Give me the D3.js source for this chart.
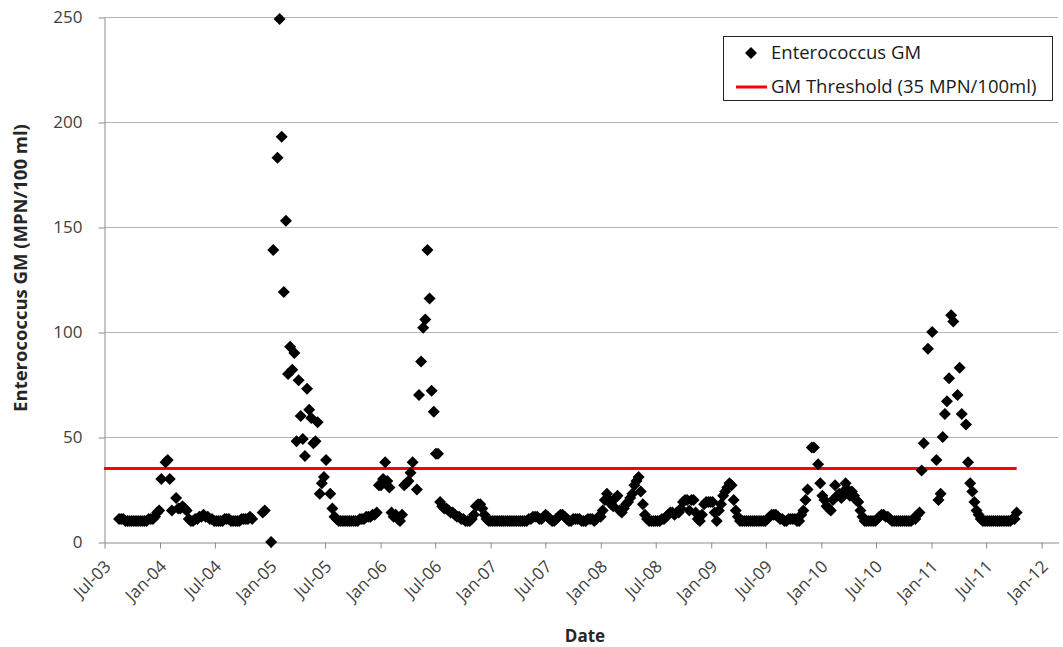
<!DOCTYPE html>
<meta charset="utf-8">
<title>Enterococcus GM</title>
<style>
  body { margin: 0; background: #fff; }
  svg { display: block; font-family: "Open Sans", sans-serif; }
</style>
<svg width="1063" height="647"></svg>
<script src="https://d3js.org/d3.v7.min.js"></script>
<script>

// weekly running geometric mean
var enteroGM = [
  ["2003-08-20",11],["2003-08-27",11],["2003-09-03",11],["2003-09-10",10],["2003-09-17",10],["2003-09-24",10],
  ["2003-10-01",10],["2003-10-08",10],["2003-10-15",10],["2003-10-22",10],["2003-10-29",10],["2003-11-05",10],
  ["2003-11-12",10],["2003-11-19",10],["2003-11-26",11],["2003-12-03",11],["2003-12-10",11],["2003-12-17",12],
  ["2003-12-24",14],["2003-12-31",15],
  ["2004-01-07",30],["2004-01-21",38],["2004-01-28",39],["2004-02-04",30],["2004-02-11",15],["2004-02-25",21],
  ["2004-03-03",16],["2004-03-10",16],["2004-03-17",17],["2004-03-24",16],["2004-03-31",15],["2004-04-07",11],
  ["2004-04-14",10],["2004-04-21",10],["2004-04-28",11],["2004-05-05",11],["2004-05-12",12],["2004-05-19",12],
  ["2004-05-26",13],["2004-06-02",12],["2004-06-09",12],["2004-06-16",11],["2004-06-23",11],["2004-06-30",10],
  ["2004-07-07",10],["2004-07-14",10],["2004-07-21",10],["2004-07-28",10],["2004-08-04",11],["2004-08-11",11],
  ["2004-08-18",11],["2004-08-25",10],["2004-09-01",10],["2004-09-08",10],["2004-09-15",10],["2004-09-22",10],
  ["2004-09-29",11],["2004-10-06",11],["2004-10-13",11],["2004-10-20",11],["2004-10-27",12],["2004-11-03",11],
  ["2004-12-08",14],["2004-12-15",15],
  ["2005-01-05",0],["2005-01-12",139],["2005-01-26",183],["2005-02-02",249],["2005-02-09",193],["2005-02-16",119],
  ["2005-02-23",153],["2005-03-02",80],["2005-03-09",93],["2005-03-16",82],["2005-03-23",90],["2005-03-30",48],
  ["2005-04-06",77],["2005-04-13",60],["2005-04-20",49],["2005-04-27",41],["2005-05-04",73],["2005-05-11",63],
  ["2005-05-18",59],["2005-05-25",47],["2005-06-01",48],["2005-06-08",57],["2005-06-15",23],["2005-06-22",28],
  ["2005-06-29",31],["2005-07-06",39],["2005-07-20",23],["2005-07-27",16],["2005-08-03",12],["2005-08-10",11],
  ["2005-08-17",10],["2005-08-24",10],["2005-08-31",10],["2005-09-07",10],["2005-09-14",10],["2005-09-21",10],
  ["2005-09-28",10],["2005-10-05",10],["2005-10-12",10],["2005-10-19",10],["2005-10-26",11],["2005-11-02",11],
  ["2005-11-09",11],["2005-11-16",12],["2005-11-23",12],["2005-11-30",12],["2005-12-07",13],["2005-12-14",13],
  ["2005-12-21",14],["2005-12-28",27],
  ["2006-01-04",27],["2006-01-11",30],["2006-01-18",38],["2006-01-25",29],["2006-02-01",26],["2006-02-08",14],
  ["2006-02-15",12],["2006-02-22",13],["2006-03-01",11],["2006-03-08",10],["2006-03-15",13],["2006-03-22",27],
  ["2006-03-29",28],["2006-04-05",29],["2006-04-12",33],["2006-04-19",38],["2006-05-03",25],["2006-05-10",70],
  ["2006-05-17",86],["2006-05-24",102],["2006-05-31",106],["2006-06-07",139],["2006-06-14",116],["2006-06-21",72],
  ["2006-06-28",62],["2006-07-05",42],["2006-07-12",42],["2006-07-19",19],["2006-07-26",17],["2006-08-02",16],
  ["2006-08-09",16],["2006-08-16",15],["2006-08-23",14],["2006-08-30",14],["2006-09-06",13],["2006-09-13",12],
  ["2006-09-20",12],["2006-09-27",11],["2006-10-04",11],["2006-10-11",10],["2006-10-18",10],["2006-10-25",10],
  ["2006-11-01",11],["2006-11-08",13],["2006-11-15",17],["2006-11-22",18],["2006-11-29",18],["2006-12-06",16],
  ["2006-12-13",13],["2006-12-20",11],["2006-12-27",10],
  ["2007-01-03",10],["2007-01-10",10],["2007-01-17",10],["2007-01-24",10],["2007-01-31",10],["2007-02-07",10],
  ["2007-02-14",10],["2007-02-21",10],["2007-02-28",10],["2007-03-07",10],["2007-03-14",10],["2007-03-21",10],
  ["2007-03-28",10],["2007-04-04",10],["2007-04-11",10],["2007-04-18",10],["2007-04-25",10],["2007-05-02",10],
  ["2007-05-09",11],["2007-05-16",11],["2007-05-23",12],["2007-05-30",12],["2007-06-06",12],["2007-06-13",11],
  ["2007-06-20",11],["2007-06-27",12],["2007-07-04",13],["2007-07-11",12],["2007-07-18",11],["2007-07-25",10],
  ["2007-08-01",10],["2007-08-08",11],["2007-08-15",12],["2007-08-22",13],["2007-08-29",13],["2007-09-05",12],
  ["2007-09-12",11],["2007-09-19",10],["2007-09-26",10],["2007-10-03",11],["2007-10-10",11],["2007-10-17",11],
  ["2007-10-24",11],["2007-10-31",10],["2007-11-07",10],["2007-11-14",10],["2007-11-21",11],["2007-11-28",11],
  ["2007-12-05",11],["2007-12-12",10],["2007-12-19",11],["2007-12-26",12],
  ["2008-01-02",12],["2008-01-09",15],["2008-01-16",20],["2008-01-23",23],["2008-01-30",20],["2008-02-06",18],
  ["2008-02-13",17],["2008-02-20",21],["2008-02-27",22],["2008-03-05",15],["2008-03-12",14],["2008-03-19",16],
  ["2008-03-26",18],["2008-04-02",19],["2008-04-09",21],["2008-04-16",23],["2008-04-23",27],["2008-04-30",29],
  ["2008-05-07",31],["2008-05-14",24],["2008-05-21",18],["2008-05-28",13],["2008-06-04",11],["2008-06-11",10],
  ["2008-06-18",10],["2008-06-25",10],["2008-07-02",10],["2008-07-09",10],["2008-07-16",10],["2008-07-23",11],
  ["2008-07-30",11],["2008-08-06",12],["2008-08-13",13],["2008-08-20",14],["2008-08-27",14],["2008-09-03",13],
  ["2008-09-10",14],["2008-09-17",14],["2008-09-24",16],["2008-10-01",19],["2008-10-08",20],["2008-10-15",20],
  ["2008-10-22",15],["2008-10-29",20],["2008-11-05",20],["2008-11-12",14],["2008-11-19",11],["2008-11-26",10],
  ["2008-12-03",13],["2008-12-10",18],["2008-12-17",19],["2008-12-24",19],["2008-12-31",19],
  ["2009-01-07",19],["2009-01-14",14],["2009-01-21",10],["2009-01-28",15],["2009-02-04",18],["2009-02-11",22],
  ["2009-02-18",24],["2009-02-25",26],["2009-03-04",28],["2009-03-11",27],["2009-03-18",20],["2009-03-25",15],
  ["2009-04-01",12],["2009-04-08",10],["2009-04-15",10],["2009-04-22",10],["2009-04-29",10],["2009-05-06",10],
  ["2009-05-13",10],["2009-05-20",10],["2009-05-27",10],["2009-06-03",10],["2009-06-10",10],["2009-06-17",10],
  ["2009-06-24",10],["2009-07-01",10],["2009-07-08",11],["2009-07-15",12],["2009-07-22",13],["2009-07-29",13],
  ["2009-08-05",13],["2009-08-12",12],["2009-08-19",11],["2009-08-26",11],["2009-09-02",10],["2009-09-09",10],
  ["2009-09-16",11],["2009-09-23",11],["2009-09-30",11],["2009-10-07",11],["2009-10-14",10],["2009-10-21",10],
  ["2009-10-28",13],["2009-11-04",15],["2009-11-11",20],["2009-11-18",25],["2009-12-02",45],["2009-12-09",45],
  ["2009-12-23",37],["2009-12-30",28],
  ["2010-01-06",22],["2010-01-13",20],["2010-01-20",17],["2010-01-27",16],["2010-02-03",15],["2010-02-10",20],
  ["2010-02-17",27],["2010-02-24",22],["2010-03-03",23],["2010-03-10",21],["2010-03-17",24],["2010-03-24",28],
  ["2010-03-31",25],["2010-04-07",22],["2010-04-14",24],["2010-04-21",22],["2010-04-28",20],["2010-05-05",19],
  ["2010-05-12",15],["2010-05-19",12],["2010-05-26",10],["2010-06-02",10],["2010-06-09",10],["2010-06-16",10],
  ["2010-06-23",10],["2010-06-30",10],["2010-07-07",11],["2010-07-14",12],["2010-07-21",13],["2010-07-28",13],
  ["2010-08-04",12],["2010-08-11",12],["2010-08-18",11],["2010-08-25",10],["2010-09-01",10],["2010-09-08",10],
  ["2010-09-15",10],["2010-09-22",10],["2010-09-29",10],["2010-10-06",10],["2010-10-13",10],["2010-10-20",10],
  ["2010-10-27",10],["2010-11-03",11],["2010-11-10",11],["2010-11-17",13],["2010-11-24",14],["2010-12-01",34],
  ["2010-12-08",47],["2010-12-22",92],
  ["2011-01-05",100],["2011-01-19",39],["2011-01-26",20],["2011-02-02",23],["2011-02-09",50],["2011-02-16",61],
  ["2011-02-23",67],["2011-03-02",78],["2011-03-09",108],["2011-03-16",105],["2011-03-30",70],["2011-04-06",83],
  ["2011-04-13",61],["2011-04-27",56],["2011-05-04",38],["2011-05-11",28],["2011-05-18",24],["2011-05-25",19],
  ["2011-06-01",15],["2011-06-08",13],["2011-06-15",11],["2011-06-22",10],["2011-06-29",10],["2011-07-06",10],
  ["2011-07-13",10],["2011-07-20",10],["2011-07-27",10],["2011-08-03",10],["2011-08-10",10],["2011-08-17",10],
  ["2011-08-24",10],["2011-08-31",10],["2011-09-07",10],["2011-09-14",10],["2011-09-21",10],["2011-09-28",11],
  ["2011-10-05",11],["2011-10-12",14]
];

var threshold = 35,
    thresholdSpan = ["2003-07-01", "2011-10-12"];

var axisSpan = ["2003-07-01", "2012-02-26"],
    tickDates = ["2003-07-01","2004-01-01","2004-07-01","2005-01-01","2005-07-01","2006-01-01",
                 "2006-07-01","2007-01-01","2007-07-01","2008-01-01","2008-07-01","2009-01-01",
                 "2009-07-01","2010-01-01","2010-07-01","2011-01-01","2011-07-01","2012-01-01"],
    yTicks = [0, 50, 100, 150, 200, 250];

var legendLabels = ["Enterococcus GM", "GM Threshold (35 MPN/100ml)"];

var svg = d3.select("svg"),
    plotLeft = 104, plotRight = 1058, plotTop = 17, plotBottom = 542;

var parse = d3.utcParse("%Y-%m-%d");

var x = d3.scaleUtc()
    .domain(axisSpan.map(parse))
    .range([plotLeft, plotRight]);

var y = d3.scaleLinear()
    .domain([0, 250])
    .range([plotBottom, plotTop]);

// horizontal gridlines
svg.append("g")
  .selectAll("line")
  .data(yTicks.filter(function(d) { return d > 0; }))
  .enter().append("line")
    .attr("x1", plotLeft).attr("x2", plotRight)
    .attr("y1", function(d) { return y(d) + 0.5; })
    .attr("y2", function(d) { return y(d) + 0.5; })
    .attr("stroke", "#b5b5b5");

// y axis
var yAxis = svg.append("g")
    .attr("transform", "translate(" + (plotLeft + 0.5) + ",0.5)")
    .call(d3.axisLeft(y).tickValues(yTicks).tickSize(6).tickPadding(16).tickSizeOuter(0));
yAxis.select(".domain").attr("stroke", "#8c8c8c");
yAxis.selectAll(".tick line").attr("stroke", "#8c8c8c");
yAxis.selectAll("text")
    .attr("font-family", "'Open Sans', sans-serif")
    .attr("font-size", 17)
    .attr("fill", "#404040");

// x axis with slanted labels
var fmt = d3.utcFormat("%b-%y");
var xAxis = svg.append("g")
    .attr("transform", "translate(0.5," + (plotBottom + 0.5) + ")")
    .call(d3.axisBottom(x).tickValues(tickDates.map(parse)).tickFormat(fmt).tickSize(6).tickSizeOuter(0));
xAxis.select(".domain").attr("stroke", "#8c8c8c");
xAxis.selectAll(".tick line").attr("stroke", "#8c8c8c");
xAxis.selectAll("text")
    .attr("x", 0).attr("y", 0).attr("dy", 0)
    .attr("text-anchor", "end")
    .attr("transform", "translate(7,25) rotate(-45)")
    .attr("font-family", "'Open Sans', sans-serif")
    .attr("font-size", 17)
    .attr("fill", "#404040");

// threshold line
svg.append("line")
    .attr("x1", x(parse(thresholdSpan[0])))
    .attr("x2", x(parse(thresholdSpan[1])))
    .attr("y1", y(threshold))
    .attr("y2", y(threshold))
    .attr("stroke", "#ff0000")
    .attr("stroke-width", 3);

// GM points as diamonds
var diamond = d3.symbol().type(d3.symbolSquare).size(72);

svg.append("g")
  .selectAll("path")
  .data(enteroGM)
  .enter().append("path")
    .attr("d", diamond)
    .attr("transform", function(d) {
      return "translate(" + x(parse(d[0])) + "," + y(d[1]) + ") rotate(45)";
    })
    .attr("fill", "#000");

// axis titles
svg.append("text")
    .attr("x", (plotLeft + plotRight) / 2 + 4)
    .attr("y", 642)
    .attr("text-anchor", "middle")
    .attr("font-size", 17)
    .attr("font-weight", "bold")
    .attr("fill", "#262626")
    .text("Date");

svg.append("text")
    .attr("transform", "translate(27,268) rotate(-90)")
    .attr("text-anchor", "middle")
    .attr("font-size", 18.5)
    .attr("font-weight", "bold")
    .attr("fill", "#262626")
    .text("Enterococcus GM (MPN/100 ml)");

// legend
var legend = svg.append("g");

legend.append("rect")
    .attr("x", 723.5).attr("y", 36.5)
    .attr("width", 329).attr("height", 64)
    .attr("fill", "#fff")
    .attr("stroke", "#262626");

legend.append("path")
    .attr("d", diamond)
    .attr("transform", "translate(751,53) rotate(45)")
    .attr("fill", "#000");

legend.append("line")
    .attr("x1", 736).attr("x2", 767)
    .attr("y1", 87).attr("y2", 87)
    .attr("stroke", "#ff0000")
    .attr("stroke-width", 3);

legend.selectAll("text")
  .data(legendLabels)
  .enter().append("text")
    .attr("x", 771)
    .attr("y", function(d, i) { return 53 + i * 34; })
    .attr("dy", "0.35em")
    .attr("font-size", 18.5)
    .attr("fill", "#1a1a1a")
    .text(function(d) { return d; });

</script>
